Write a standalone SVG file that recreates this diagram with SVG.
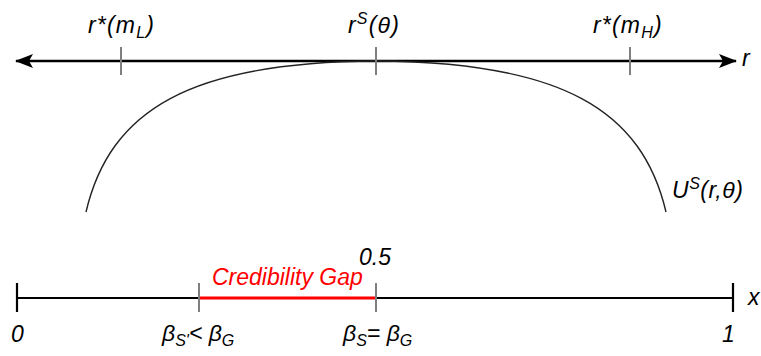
<svg xmlns="http://www.w3.org/2000/svg" width="761" height="356" viewBox="0 0 761 356">
<defs>
<style>
.t{font-family:"Liberation Sans",Arial,sans-serif;font-style:italic;font-size:23px;fill:#000}
.red{fill:#ff0000}
.axis{stroke:#000;stroke-width:2.5;fill:none}
.tick{stroke:#7f7f7f;stroke-width:2;fill:none}
.etick{stroke:#000;stroke-width:2.2;fill:none}
.curve{stroke:#222;stroke-width:1.4;fill:none}
</style>
<marker id="ah" viewBox="0 0 18 14" refX="17" refY="7" markerWidth="18" markerHeight="14" markerUnits="userSpaceOnUse" orient="auto-start-reverse">
<path d="M0,0 L18,7 L0,14 L4,7 Z" fill="#000"/>
</marker>
</defs>
<rect width="761" height="356" fill="#fff"/>
<g id="connectors">
<path id="r-axis" class="axis" d="M16,61 H736" marker-start="url(#ah)" marker-end="url(#ah)"/>
<path id="utility-curve" class="curve" d="M86,212 C110,110 190,62 376,61 C562,62 642,110 666,212"/>
<path id="x-axis" class="axis" style="stroke-width:2.2" d="M17,298 H733"/>
<path id="gap-line" d="M199,298 H376" stroke="#ff0000" stroke-width="3.2" fill="none"/>
</g>
<g id="tick-mL"><path class="tick" d="M121,47 V75"/><text class="t" x="88" y="33" letter-spacing="1.2">r*(m<tspan font-size="16" dy="5">L</tspan><tspan dy="-5">)</tspan></text></g>
<g id="tick-rS"><path class="tick" d="M376,47 V75"/><text class="t" x="348" y="33" letter-spacing="1.2">r<tspan font-size="16" dy="-9">S</tspan><tspan dy="9">(θ)</tspan></text></g>
<g id="tick-mH"><path class="tick" d="M630,47 V75"/><text class="t" x="593" y="33" letter-spacing="1.2">r*(m<tspan font-size="16" dy="5">H</tspan><tspan dy="-5">)</tspan></text></g>
<g id="label-r"><text class="t" x="742" y="66">r</text></g>
<g id="label-U"><text class="t" x="672" y="198" letter-spacing="0.5">U<tspan font-size="16" dy="-9">S</tspan><tspan dy="9">(r,θ)</tspan></text></g>
<g id="tick-0"><path class="etick" d="M17,283 V312"/><text class="t" x="11" y="342">0</text></g>
<g id="tick-betaS-prime"><path class="tick" d="M199,283 V312"/><text class="t" x="162" y="341">β<tspan font-size="16" dy="5">S'</tspan><tspan dy="-5">&lt; β</tspan><tspan font-size="16" dy="5">G</tspan></text></g>
<g id="tick-half"><path class="tick" d="M376,283 V312"/><text class="t" x="359" y="265">0.5</text><text class="t" x="343" y="341">β<tspan font-size="16" dy="5">S</tspan><tspan dy="-5">= β</tspan><tspan font-size="16" dy="5">G</tspan></text></g>
<g id="tick-1"><path class="etick" d="M733,283 V312"/><text class="t" x="722" y="342">1</text></g>
<g id="label-x"><text class="t" x="748" y="305">x</text></g>
<g id="credibility-gap"><text class="t red" x="212" y="285" font-size="22">Credibility Gap</text></g>
</svg>
